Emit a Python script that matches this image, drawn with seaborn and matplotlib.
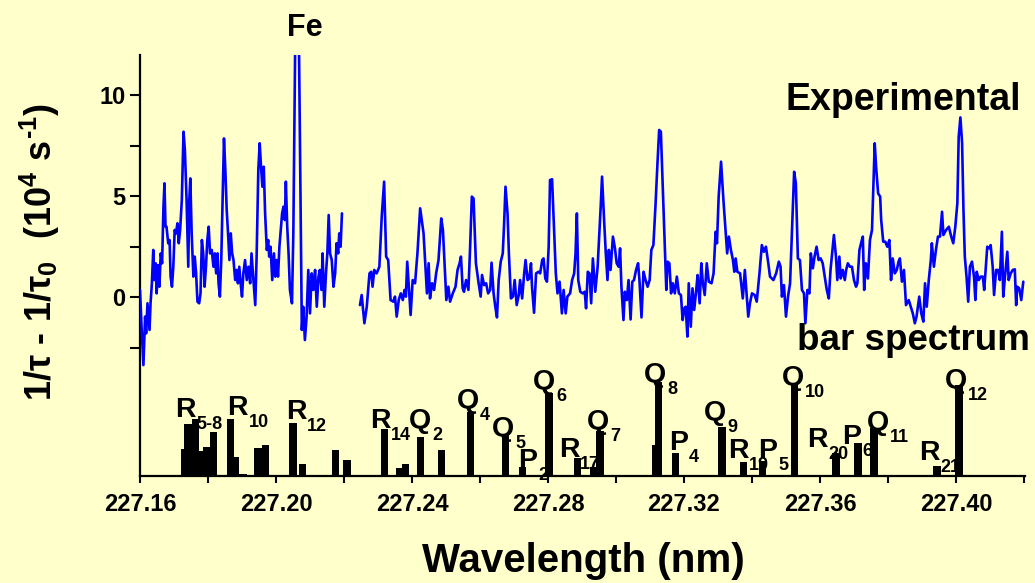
import matplotlib
matplotlib.use("Agg")
import matplotlib.pyplot as plt
import seaborn as sns

# ---------------- data ----------------
# experimental spectrum, left segment (before the gap)
wl_left = [227.1600, 227.1605, 227.1610, 227.1615, 227.1618, 227.1622, 227.1628, 227.1631, 227.1635, 227.1639,
           227.1642, 227.1646, 227.1649, 227.1653, 227.1657, 227.1661, 227.1665, 227.1669, 227.1672, 227.1675,
           227.1678, 227.1683, 227.1687, 227.1690, 227.1694, 227.1698, 227.1702, 227.1706, 227.1710, 227.1714,
           227.1718, 227.1723, 227.1728, 227.1732, 227.1737, 227.1742, 227.1745, 227.1748, 227.1752, 227.1757,
           227.1761, 227.1765, 227.1769, 227.1774, 227.1778, 227.1782, 227.1786, 227.1790, 227.1794, 227.1798,
           227.1802, 227.1806, 227.1811, 227.1816, 227.1820, 227.1824, 227.1828, 227.1831, 227.1835, 227.1839,
           227.1843, 227.1847, 227.1851, 227.1855, 227.1859, 227.1863, 227.1867, 227.1871, 227.1875, 227.1880,
           227.1884, 227.1888, 227.1892, 227.1896, 227.1900, 227.1904, 227.1909, 227.1914, 227.1919, 227.1924,
           227.1928, 227.1933, 227.1939, 227.1943, 227.1948, 227.1952, 227.1956, 227.1960, 227.1964, 227.1968,
           227.1973, 227.1977, 227.1980, 227.1984, 227.1989, 227.1994, 227.1998, 227.2002, 227.2006, 227.2010,
           227.2014, 227.2018, 227.2022, 227.2026, 227.2029, 227.2033, 227.2037, 227.2041, 227.2047, 227.2051,
           227.2062, 227.2073, 227.2076, 227.2080, 227.2085, 227.2090, 227.2095, 227.2100, 227.2105, 227.2110,
           227.2115, 227.2120, 227.2125, 227.2129, 227.2134, 227.2137, 227.2142, 227.2147, 227.2151, 227.2155,
           227.2159, 227.2164, 227.2169, 227.2174, 227.2178, 227.2183, 227.2186, 227.2190, 227.2194]
sig_left = [0.35, -1.63, -3.37, -0.97, -1.80, -0.31, -1.63, -0.31, 0.68, 2.33,
            0.84, 1.67, 0.18, 1.58, 0.51, 2.16, 1.67, 4.47, 5.63, 3.48,
            3.48, 2.66, 2.82, 1.01, 0.51, 1.50, 3.32, 3.15, 3.65, 2.66,
            3.32, 4.80, 8.18, 7.28, 4.80, 1.50, 4.80, 5.87, 3.15, 1.01,
            2.00, 1.17, -0.23, -0.31, 0.18, 2.82, 2.16, 0.51, 1.50, 2.82,
            3.48, 2.16, 2.33, 1.50, 2.16, 1.17, 2.16, 0.68, 0.02, 1.83,
            4.80, 7.85, 6.29, 4.31, 3.15, 1.83, 3.15, 2.16, 1.83, 0.84,
            1.34, 0.68, 1.50, 0.68, 0.02, 1.17, 1.83, 0.84, 1.50, 0.68,
            2.16, 1.01, -0.40, 2.00, 6.29, 7.61, 6.45, 5.46, 6.45, 4.14,
            2.33, 2.82, 2.00, 2.49, 0.84, 2.16, 1.01, 1.83, 1.01, 2.49,
            3.32, 4.14, 4.47, 3.81, 5.71, 3.48, 2.16, 0.35, -0.31, 3.15,
            22.0, 3.15, -1.63, -0.48, -2.13, -0.97, 1.34, -0.81, 1.17, 0.35,
            1.34, -0.48, 1.01, 1.34, 0.35, 2.16, -0.48, 1.17, 2.16, 4.06,
            2.16, 1.83, 0.51, 1.17, 2.66, 2.16, 3.15, 2.49, 4.14]

# experimental spectrum, right segment (after the gap)
wl_right = [227.2247, 227.2252, 227.2260, 227.2267, 227.2275, 227.2280, 227.2284, 227.2289, 227.2296, 227.2304,
            227.2311, 227.2318, 227.2324, 227.2330, 227.2337, 227.2345, 227.2350, 227.2355, 227.2361, 227.2367,
            227.2373, 227.2378, 227.2382, 227.2386, 227.2390, 227.2396, 227.2402, 227.2409, 227.2416, 227.2424,
            227.2434, 227.2444, 227.2449, 227.2453, 227.2459, 227.2465, 227.2471, 227.2478, 227.2486, 227.2491,
            227.2501, 227.2507, 227.2512, 227.2520, 227.2528, 227.2534, 227.2540, 227.2544, 227.2549, 227.2553,
            227.2559, 227.2566, 227.2571, 227.2576, 227.2581, 227.2588, 227.2596, 227.2602, 227.2606, 227.2612,
            227.2618, 227.2624, 227.2630, 227.2634, 227.2640, 227.2645, 227.2650, 227.2655, 227.2661, 227.2667,
            227.2671, 227.2675, 227.2681, 227.2685, 227.2691, 227.2697, 227.2702, 227.2708, 227.2714, 227.2718,
            227.2724, 227.2730, 227.2734, 227.2740, 227.2745, 227.2750, 227.2753, 227.2759, 227.2765, 227.2772,
            227.2777, 227.2783, 227.2787, 227.2792, 227.2797, 227.2802, 227.2806, 227.2812, 227.2818, 227.2823,
            227.2828, 227.2834, 227.2841, 227.2846, 227.2852, 227.2857, 227.2865, 227.2871, 227.2877, 227.2881,
            227.2885, 227.2889, 227.2895, 227.2902, 227.2908, 227.2912, 227.2917, 227.2922, 227.2927, 227.2932,
            227.2939, 227.2946, 227.2952, 227.2955, 227.2959, 227.2965, 227.2970, 227.2975, 227.2979, 227.2984,
            227.2991, 227.2997, 227.3002, 227.3008, 227.3012, 227.3016, 227.3022, 227.3026, 227.3032, 227.3037,
            227.3043, 227.3048, 227.3053, 227.3059, 227.3065, 227.3069, 227.3075, 227.3081, 227.3087, 227.3093,
            227.3099, 227.3104, 227.3110, 227.3116, 227.3122, 227.3127, 227.3132, 227.3138, 227.3143, 227.3148,
            227.3152, 227.3157, 227.3162, 227.3167, 227.3173, 227.3179, 227.3185, 227.3191, 227.3196, 227.3201,
            227.3205, 227.3210, 227.3214, 227.3220, 227.3225, 227.3230, 227.3236, 227.3240, 227.3246, 227.3251,
            227.3255, 227.3261, 227.3267, 227.3273, 227.3281, 227.3287, 227.3293, 227.3297, 227.3302, 227.3309,
            227.3316, 227.3322, 227.3327, 227.3332, 227.3338, 227.3344, 227.3348, 227.3352, 227.3357, 227.3365,
            227.3373, 227.3379, 227.3384, 227.3389, 227.3394, 227.3400, 227.3408, 227.3414, 227.3422, 227.3429,
            227.3435, 227.3441, 227.3448, 227.3453, 227.3463, 227.3471, 227.3479, 227.3484, 227.3488, 227.3494,
            227.3500, 227.3506, 227.3512, 227.3518, 227.3524, 227.3529, 227.3535, 227.3541, 227.3547, 227.3553,
            227.3557, 227.3563, 227.3569, 227.3573, 227.3579, 227.3584, 227.3590, 227.3596, 227.3602, 227.3608,
            227.3614, 227.3620, 227.3626, 227.3631, 227.3637, 227.3641, 227.3647, 227.3651, 227.3657, 227.3661,
            227.3667, 227.3673, 227.3677, 227.3682, 227.3688, 227.3694, 227.3700, 227.3706, 227.3710, 227.3716,
            227.3722, 227.3726, 227.3730, 227.3735, 227.3741, 227.3747, 227.3753, 227.3757, 227.3761, 227.3765,
            227.3771, 227.3777, 227.3780, 227.3786, 227.3792, 227.3798, 227.3804, 227.3809, 227.3814, 227.3820,
            227.3826, 227.3831, 227.3835, 227.3841, 227.3847, 227.3853, 227.3861, 227.3867, 227.3873, 227.3879,
            227.3884, 227.3892, 227.3898, 227.3904, 227.3909, 227.3914, 227.3920, 227.3926, 227.3929, 227.3935,
            227.3941, 227.3947, 227.3953, 227.3959, 227.3963, 227.3971, 227.3979, 227.3986, 227.3992, 227.3998,
            227.4004, 227.4008, 227.4013, 227.4018, 227.4022, 227.4026, 227.4031, 227.4036, 227.4041, 227.4047,
            227.4053, 227.4057, 227.4061, 227.4067, 227.4073, 227.4079, 227.4083, 227.4088, 227.4092, 227.4098,
            227.4102, 227.4108, 227.4112, 227.4118, 227.4124, 227.4129, 227.4135, 227.4139, 227.4145, 227.4151,
            227.4155, 227.4161, 227.4167, 227.4173, 227.4177, 227.4180, 227.4186, 227.4192, 227.4198]
sig_right = [-0.40, 0.10, -1.30, -0.48, 1.17, 1.25, 0.51, 1.34, 1.17, 1.50,
             3.98, 5.71, 2.00, 1.83, -0.15, -0.23, 0.02, -0.97, -0.15, 0.18,
             -0.15, 0.35, 0.02, 1.75, 0.68, -0.89, 0.84, 0.68, 2.16, 4.39,
             3.15, 0.18, 1.67, -0.07, 0.68, 0.35, 1.17, 1.83, 3.89, 3.32,
             -0.15, 0.51, -0.23, 0.18, 0.51, 1.34, 1.67, 2.00, 0.43, 0.26,
             0.84, 0.35, 2.49, 4.97, 4.88, 1.67, 0.68, 0.02, 1.09, 0.59,
             0.68, 0.18, 0.35, 1.70, 0.18, -0.48, -1.01, 0.84, 1.75, 2.16,
             3.65, 5.46, 4.14, 2.16, -0.07, 0.02, 0.84, -0.40, 0.10, 0.84,
             -0.07, 1.17, 1.83, 0.84, 0.92, 1.67, 0.51, -0.78, 1.17, 1.25,
             1.17, 1.83, 1.91, 0.92, 0.76, 2.49, 5.79, 5.83, 3.32, 1.17,
             0.18, 0.76, -0.81, 0.35, -0.81, 0.02, 0.18, 0.84, 1.17, 2.16,
             4.14, 0.84, 0.26, 0.18, 0.26, -0.56, 1.25, 1.17, -0.31, 1.91,
             0.26, 1.50, 3.48, 4.47, 5.96, 3.81, 2.16, 0.84, 2.33, 1.34,
             2.99, 2.41, 1.67, 1.50, 2.41, 0.51, -1.14, 0.26, -0.15, 0.84,
             -1.11, 0.76, 0.84, 1.34, 1.67, 0.84, -1.01, 1.25, 0.84, 0.51,
             0.84, 2.33, 2.57, 4.47, 6.62, 8.27, 8.18, 5.30, 2.99, 0.35,
             1.75, 1.67, 0.18, 0.68, 0.18, 1.01, 0.18, 0.10, -1.14, -0.56,
             -0.48, -1.96, 0.68, -1.47, 0.43, -0.64, 0.35, 1.09, -0.31, 1.67,
             0.76, 0.10, 1.67, 0.76, 0.68, 1.17, 3.23, 2.66, 4.97, 6.70,
             4.80, 3.32, 2.16, 2.99, 2.33, 1.83, 1.25, 1.91, 1.25, 1.17,
             -0.07, 1.34, 0.18, -0.97, -0.31, 0.18, 0.10, -0.23, 1.17, 2.57,
             2.24, 2.49, 1.67, 1.01, 0.84, 1.17, 1.75, 1.50, 0.02, 0.59,
             -0.97, 0.02, 0.68, 3.48, 6.20, 5.63, 1.91, 1.83, 0.35, 0.18,
             -1.30, 0.35, 0.18, 2.16, 1.42, 2.00, 2.49, 1.83, 1.91, 1.67,
             1.01, 0.35, -0.07, 1.34, 2.41, 3.07, 2.00, 0.84, 2.00, 0.92,
             1.34, 0.84, 1.34, 1.67, 1.50, 1.50, 0.84, 0.51, 0.68, 2.33,
             2.74, 2.99, 0.35, 1.67, 0.92, 2.82, 3.32, 5.46, 7.61, 6.45,
             5.13, 4.97, 3.81, 2.74, 2.74, 2.49, 2.82, 0.84, 1.91, 1.17,
             1.34, 1.75, 1.91, 0.76, 1.34, -0.40, -0.15, -0.48, -0.81, -1.30,
             -0.97, 0.02, -0.81, -1.22, 0.68, -0.48, 0.84, 1.83, 2.66, 1.50,
             2.33, 2.99, 2.99, 4.22, 3.07, 3.32, 3.48, 2.99, 2.66, 3.48,
             4.64, 7.94, 8.89, 7.61, 4.31, 2.00, 1.01, -0.23, 1.50, 1.75,
             1.01, -0.15, 1.25, 0.84, 1.01, 1.01, 0.35, 1.50, 2.49, 2.41,
             2.57, 1.50, 0.10, 1.34, 1.34, 0.84, 3.23, 0.02, 1.17, 2.24,
             0.84, 1.17, 1.34, 1.37, -0.40, 0.51, 0.43, -0.15, 0.76]

# bar spectrum (line positions, relative heights in y units above the baseline)
bar_wl = [227.1624, 227.1732, 227.1741, 227.1762, 227.1776, 227.1797, 227.1815, 227.1865, 227.1882, 227.1903,
          227.1947, 227.1968, 227.2050, 227.2079, 227.2109, 227.2176, 227.2209, 227.2318, 227.2362, 227.2382,
          227.2424, 227.2488, 227.2532, 227.2571, 227.2676, 227.2726, 227.2803, 227.2888, 227.2935, 227.2953,
          227.3115, 227.3124, 227.3176, 227.3241, 227.3312, 227.3374, 227.3432, 227.3526, 227.3626, 227.3647,
          227.3712, 227.3759, 227.3944, 227.4009, 227.4035]
bar_h = [0.05, 1.34, 2.57, 2.82, 1.24, 1.44, 2.18, 2.82, 0.94, 0.10,
         1.39, 1.53, 2.62, 0.59, 0.05, 1.29, 0.79, 2.33, 0.40, 0.59,
         1.93, 1.29, 0.05, 3.17, 2.03, 0.45, 4.11, 0.89, 0.45, 2.23,
         1.53, 4.65, 1.14, 0.05, 2.43, 0.69, 0.74, 4.60, 0.05, 1.14,
         1.63, 2.38, 0.50, 4.50, 0.05]

# line assignments
lbl_branch = ["R", "R", "R", "R", "Q", "Q", "Q", "P", "Q", "R", "Q",
              "Q", "P", "Q", "R", "P", "Q", "R", "P", "Q", "R", "Q"]
lbl_sub = ["5-8", "10", "12", "14", "2", "4", "5", "2", "6", "17", "7",
           "8", "4", "9", "19", "5", "10", "20", "6", "11", "21", "12"]
lbl_x = [227.1703, 227.1856, 227.2029, 227.2276, 227.2391, 227.2532, 227.2635, 227.2712, 227.2756, 227.2832, 227.2915,
         227.3082, 227.3156, 227.3259, 227.3329, 227.3418, 227.3488, 227.3562, 227.3665, 227.3738, 227.3891, 227.3968]
lbl_y = [-5.96, -5.86, -6.06, -6.50, -6.50, -5.47, -6.90, -8.44, -4.57, -7.94, -6.55,
         -4.23, -7.59, -6.11, -7.99, -7.99, -4.38, -7.40, -7.30, -6.60, -8.09, -4.48]

x_major = [227.16, 227.20, 227.24, 227.28, 227.32, 227.36, 227.40]
x_major_labels = ["227.16", "227.20", "227.24", "227.28", "227.32", "227.36", "227.40"]
x_minor = [227.18, 227.22, 227.26, 227.30, 227.34, 227.38, 227.42]
y_major = [0, 5, 10]
y_major_labels = ["0", "5", "10"]
y_minor = [-2.5, 2.5, 7.5]

# ---------------- style ----------------
BG = "#FFFFCC"
BLUE = "#0000FF"
YMIN, YMAX = -8.86, 11.98
XMIN, XMAX = 227.16, 227.4203

sns.set_style("ticks")
plt.rcParams["font.family"] = ["Liberation Sans", "DejaVu Sans"]
plt.rcParams["font.weight"] = "bold"
plt.rcParams["text.color"] = "black"
plt.rcParams["axes.labelcolor"] = "black"
plt.rcParams["xtick.color"] = "black"
plt.rcParams["ytick.color"] = "black"
plt.rcParams["axes.edgecolor"] = "black"
plt.rcParams["mathtext.fontset"] = "custom"
plt.rcParams["mathtext.rm"] = "Liberation Sans:bold"
plt.rcParams["mathtext.it"] = "Liberation Sans:bold"
plt.rcParams["mathtext.bf"] = "Liberation Sans:bold"
plt.rcParams["mathtext.sf"] = "Liberation Sans:bold"

W, H = 1035, 583
fig = plt.figure(figsize=(W / 100, H / 100), dpi=100, facecolor=BG)
ax = fig.add_axes([140 / W, 1 - 476 / H, 885 / W, 421 / H])
ax.set_facecolor(BG)

sns.lineplot(x=wl_left, y=sig_left, ax=ax, color=BLUE, linewidth=1.9,
             estimator=None, sort=False, zorder=4)
sns.lineplot(x=wl_right, y=sig_right, ax=ax, color=BLUE, linewidth=1.9,
             estimator=None, sort=False, zorder=4)

ax.bar(bar_wl, bar_h, width=0.0021, bottom=YMIN, color="black",
       linewidth=0, align="center", zorder=3)

for br, sb, x, y in zip(lbl_branch, lbl_sub, lbl_x, lbl_y):
    t = ax.text(x, y, br, ha="left", va="baseline", fontsize=20.5,
                fontweight="bold", color="black", zorder=2)
    ax.annotate(sb, xy=(1, 0), xycoords=t, xytext=(1, -6),
                textcoords="offset pixels", ha="left", va="baseline",
                fontsize=13, fontweight="bold", color="black", zorder=2)

ax.set_xlim(XMIN, XMAX)
ax.set_ylim(YMIN, YMAX)
ax.set_xticks(x_major)
ax.set_xticklabels(x_major_labels)
ax.set_xticks(x_minor, minor=True)
ax.set_yticks(y_major)
ax.set_yticklabels(y_major_labels)
ax.set_yticks(y_minor, minor=True)
ax.set_xlabel("")
ax.set_ylabel("")

sns.despine(ax=ax)
for s in ("left", "bottom"):
    ax.spines[s].set_linewidth(1.6)
    ax.spines[s].set_color("black")

ax.tick_params(axis="x", which="both", direction="out", length=5, width=1.5,
               color="black", labelcolor="black", pad=7, labelsize=17)
ax.tick_params(axis="y", which="both", direction="out", length=7.5, width=1.5,
               color="black", labelcolor="black", pad=3, labelsize=17)
for lab in ax.get_xticklabels() + ax.get_yticklabels():
    lab.set_fontweight("bold")

fig.text(583 / W, 1 - 572 / H, "Wavelength (nm)", ha="center", va="baseline",
         fontsize=29, fontweight="bold", color="black")
fig.text(40 / W, 1 - 252 / H,
         r"$1/\tau\ \text{-}\ 1/\tau_0\ \ (10^4\ s^{\text{-}1})$",
         rotation=90, ha="center", va="center", fontsize=26, fontweight="bold",
         color="black")
fig.text(305 / W, 1 - 36 / H, "Fe", ha="center", va="baseline",
         fontsize=22, fontweight="bold", color="black")
fig.text(785 / W, 1 - 110 / H, "Experimental", ha="left", va="baseline",
         fontsize=27, fontweight="bold", color="black")
fig.text(797 / W, 1 - 350 / H, "bar spectrum", ha="left", va="baseline",
         fontsize=26.5, fontweight="bold", color="black")

fig.savefig("out.png", dpi=100, facecolor=BG)
